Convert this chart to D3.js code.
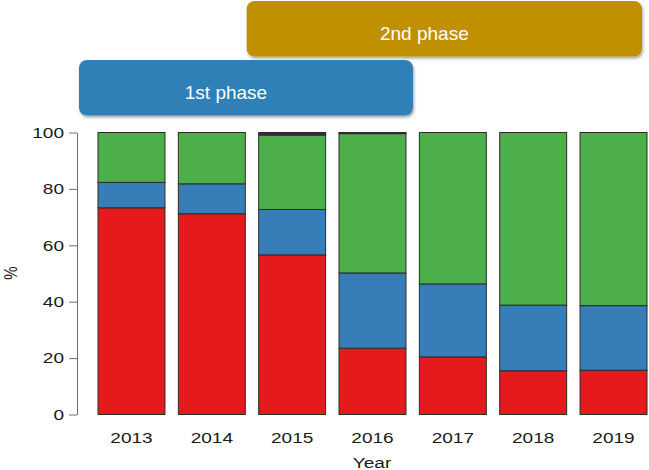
<!DOCTYPE html>
<html>
<head>
<meta charset="utf-8">
<script src="https://cdn.jsdelivr.net/npm/d3@7/dist/d3.min.js"></script>
<style>
    body { margin: 0; background: #fff; }
    svg { display: block; font-family: "Liberation Sans", Arial, sans-serif; }
</style>
</head>
<body>
<svg id="chart" width="649" height="470"></svg>
<script>
// values (percent of each year)
let years = ["2013", "2014", "2015", "2016", "2017", "2018", "2019"];
let redVals = [73.3, 71.2, 56.6, 23.5, 20.4, 15.5, 15.7];
let blueVals = [9.0, 10.6, 16.1, 26.7, 25.9, 23.3, 22.9];
let greenVals = [17.7, 18.2, 26.4, 49.4, 53.7, 61.2, 61.4];
let purpleVals = [0, 0, 0.9, 0.4, 0, 0, 0];
let yTicks = [0, 20, 40, 60, 80, 100];

let phases = [
    { label: "2nd phase", from: "2015", to: "2019", color: "#c09000", row: 0 },
    { label: "1st phase", from: "2013", to: "2016", color: "#2f80b6", row: 1 }
];

let keys = ["red", "blue", "green", "purple"];
let colors = { red: "#e41a1c", blue: "#377eb8", green: "#4daf4a", purple: "#4a1f4f" };

let rows = years.map((y, i) => ({
    year: y, red: redVals[i], blue: blueVals[i], green: greenVals[i], purple: purpleVals[i]
}));

function render() {
    let svg = d3.select("#chart");
    let sx = 1.27; // text in the reference is stretched sideways

    let xScale = d3.scaleBand().domain(years).range([98, 647])
        .paddingInner(1 / 6).paddingOuter(0);
    let yScale = d3.scaleLinear().domain([0, 100]).range([414.5, 132.5]);
    let bw = xScale.bandwidth();

    let defs = svg.append("defs");
    let f = defs.append("filter").attr("id", "shadow")
        .attr("x", "-10%").attr("y", "-20%").attr("width", "120%").attr("height", "150%");
    f.append("feDropShadow").attr("dx", 1).attr("dy", 2).attr("stdDeviation", 1.6)
        .attr("flood-color", "#000").attr("flood-opacity", 0.35);

    // phase banners
    let boxTop = [1, 60];
    phases.forEach(p => {
        let x0 = p.row == 0 ? xScale(p.from) - 12 : xScale(p.from) - 19;
        let x1 = p.row == 0 ? xScale(p.to) + bw - 5 : xScale(p.to) + bw + 7;
        let y0 = boxTop[p.row];
        svg.append("rect")
            .attr("x", x0).attr("y", y0)
            .attr("width", x1 - x0).attr("height", 55.5)
            .attr("rx", 8).attr("ry", 8)
            .attr("fill", p.color)
            .attr("filter", "url(#shadow)");
        svg.append("text")
            .attr("x", (x0 + x1) / 2 - 20)
            .attr("y", y0 + 39)
            .attr("text-anchor", "middle")
            .attr("font-size", "19px")
            .attr("fill", "#fff")
            .text(p.label);
    });

    // stacked bars
    let series = d3.stack().keys(keys)(rows);
    let g = svg.append("g");
    series.forEach(s => {
        g.selectAll(".bar-" + s.key)
            .data(s.filter(d => d[1] - d[0] > 0))
            .enter()
            .append("rect")
            .attr("class", "bar-" + s.key)
            .attr("x", d => xScale(d.data.year))
            .attr("y", d => yScale(d[1]))
            .attr("width", bw)
            .attr("height", d => yScale(d[0]) - yScale(d[1]))
            .attr("fill", colors[s.key])
            .attr("stroke", "#2b2b2b")
            .attr("stroke-width", 1);
    });

    // y axis
    let yAxis = svg.append("g")
        .attr("transform", "translate(77,0)")
        .call(d3.axisLeft(yScale).tickValues(yTicks).tickSize(8).tickPadding(5).tickSizeOuter(0));
    yAxis.select(".domain").attr("stroke", "#6e6e6e");
    yAxis.selectAll(".tick line").attr("stroke", "#6e6e6e");
    yAxis.selectAll(".tick text")
        .attr("font-size", "15px")
        .attr("fill", "#1a1a1a")
        .attr("font-family", "Liberation Sans, Arial, sans-serif")
        .attr("x", -13 / sx)
        .attr("transform", "scale(" + sx + ",1)");

    // x labels
    svg.selectAll(".year")
        .data(years)
        .enter()
        .append("text")
        .attr("class", "year")
        .attr("transform", d => "translate(" + (xScale(d) + bw / 2) + ",443) scale(" + sx + ",1)")
        .attr("text-anchor", "middle")
        .attr("font-size", "15px")
        .attr("fill", "#1a1a1a")
        .text(d => d);

    svg.append("text")
        .attr("transform", "translate(372,468) scale(" + sx + ",1)")
        .attr("text-anchor", "middle")
        .attr("font-size", "15px")
        .attr("fill", "#1a1a1a")
        .text("Year");

    svg.append("text")
        .attr("transform", "translate(17,273) rotate(-90) scale(1," + sx + ")")
        .attr("text-anchor", "middle")
        .attr("font-size", "15px")
        .attr("fill", "#1a1a1a")
        .text("%");
}

render();
</script>
</body>
</html>
